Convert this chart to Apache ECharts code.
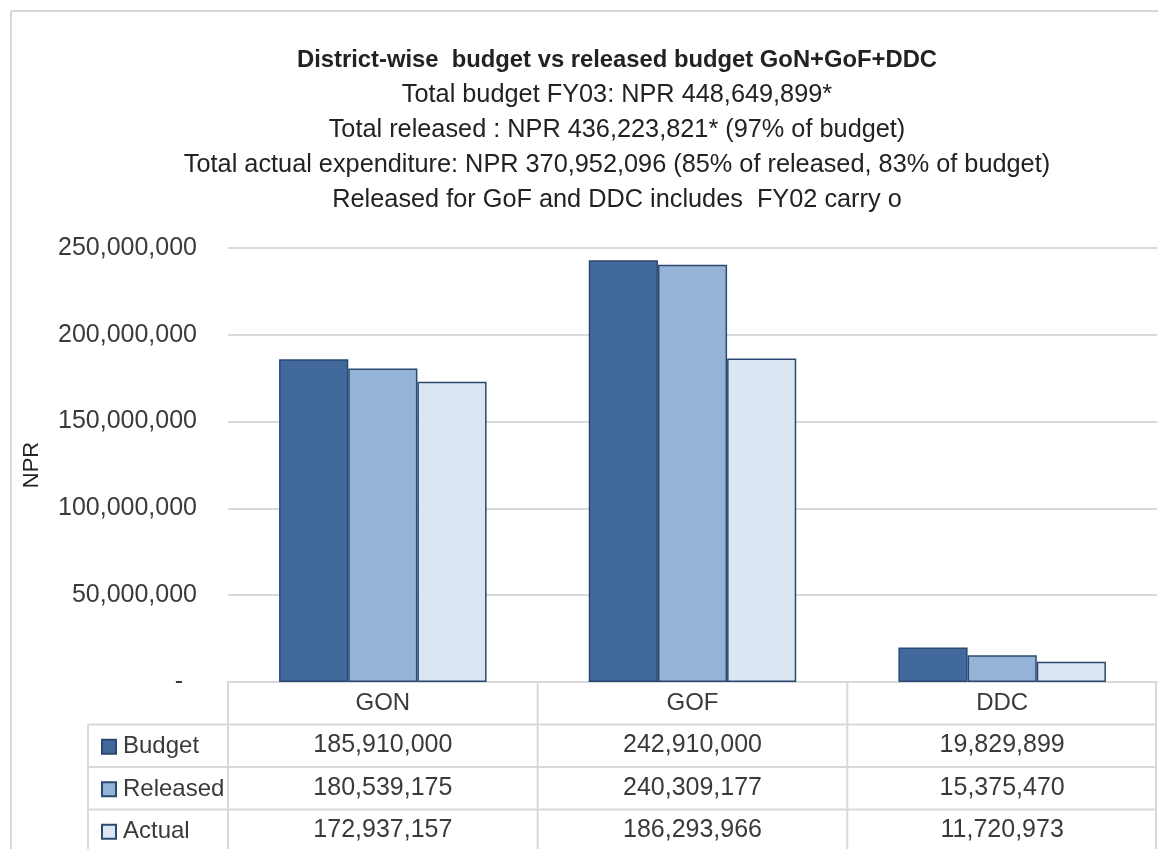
<!DOCTYPE html>
<html>
<head>
<meta charset="utf-8">
<script src="https://cdn.jsdelivr.net/npm/echarts@6/dist/echarts.min.js"></script>
<style>
  html, body { margin: 0; padding: 0; background: #fff; }
  #chart { width: 1158px; height: 849px; }
</style>
</head>
<body>
<div id="chart"></div>
<script>
// Budget lines per funding source
const categories = ['GON', 'GOF', 'DDC'];
const seriesNames = ['Budget', 'Released', 'Actual'];
const budget = [185910000, 242910000, 19829899];
const released = [180539175, 240309177, 15375470];
const actual = [172937157, 186293966, 11720973];
const yTicks = [0, 50000000, 100000000, 150000000, 200000000, 250000000];

const titleText = 'District-wise  budget vs released budget GoN+GoF+DDC';
const subLines = [
  'Total budget FY03: NPR 448,649,899*',
  'Total released : NPR 436,223,821* (97% of budget)',
  'Total actual expenditure: NPR 370,952,096 (85% of released, 83% of budget)',
  'Released for GoF and DDC includes  FY02 carry o'
];

const values = [budget, released, actual];
const colors = ['#41699c', '#95b3d7', '#dce6f2'];
const edge = '#2b4870';
const FONT = '"Liberation Sans", Arial, sans-serif';
const TXT = '#3a3a3a';
const LINE = '#d9d9d9';

// plot geometry
const G = { left: 228, right: 1, top: 248, bottom: 167 };
const W = 1158, H = 849;
const plotRight = W - G.right;
const axisY = H - G.bottom;
const rowH = 42.5;
const tableLeft = 88;

const fmt = v => v.toLocaleString('en-US');

const chart = echarts.init(document.getElementById('chart'), null, { renderer: 'canvas' });

// one extra category axis per table row, offset below the plot
const tableAxes = values.map((arr, r) => ({
  type: 'category',
  data: categories,
  gridIndex: 0,
  position: 'bottom',
  offset: rowH * (r + 1),
  axisLine: { show: false },
  axisTick: { show: false },
  axisLabel: {
    margin: 21,
    verticalAlign: 'middle',
    fontFamily: FONT, fontSize: 25, color: TXT,
    formatter: (v, i) => fmt(arr[i])
  }
}));

const colW = (plotRight - G.left) / categories.length;
const lines = [];
const seg = (x1, y1, x2, y2) => lines.push({
  type: 'line', silent: true,
  shape: { x1, y1, x2, y2 },
  style: { stroke: LINE, lineWidth: 2 }
});
// row separators
for (let r = 1; r <= 3; r++) seg(tableLeft, axisY + rowH * r, plotRight, axisY + rowH * r);
// column separators
seg(tableLeft, axisY + rowH, tableLeft, H);
for (let c = 0; c <= categories.length; c++) {
  const x = Math.min(G.left + colW * c, plotRight - 1);
  seg(x, axisY, x, H);
}
// outer chart frame
seg(11, 11, 11, H);
seg(11, 11, W, 11);

chart.setOption({
  animation: false,
  backgroundColor: '#fff',
  title: {
    text: titleText,
    subtext: subLines.join('\n'),
    left: 612,
    top: 40,
    textAlign: 'center',
    itemGap: 3,
    textStyle: { fontFamily: FONT, fontSize: 23.8, fontWeight: 'bold', color: '#222', lineHeight: 30 },
    subtextStyle: { fontFamily: FONT, fontSize: 25.3, color: '#222', lineHeight: 34.8 }
  },
  legend: {
    orient: 'vertical',
    left: 96,
    top: axisY + rowH + rowH / 2 - 16,
    height: 200,
    itemWidth: 14,
    itemHeight: 14,
    itemGap: rowH - 24,
    icon: 'rect',
    selectedMode: false,
    data: seriesNames,
    textStyle: { fontFamily: FONT, fontSize: 24, color: TXT, lineHeight: 24, padding: [0, 0, 0, 2] }
  },
  grid: { left: G.left, right: G.right, top: G.top, bottom: G.bottom, containLabel: false },
  xAxis: [{
    type: 'category',
    data: categories,
    position: 'bottom',
    axisLine: { show: true, lineStyle: { color: LINE, width: 2 } },
    axisTick: { show: false },
    axisLabel: { margin: 21, verticalAlign: 'middle', fontFamily: FONT, fontSize: 24, color: TXT }
  }].concat(tableAxes),
  yAxis: {
    type: 'value',
    min: yTicks[0],
    max: yTicks[yTicks.length - 1],
    interval: yTicks[1] - yTicks[0],
    name: 'NPR',
    nameLocation: 'middle',
    nameGap: 185,
    nameTextStyle: { fontFamily: FONT, fontSize: 22, color: '#222' },
    axisLine: { show: false },
    axisTick: { show: false },
    axisLabel: {
      margin: 31,
      fontFamily: FONT, fontSize: 25, color: TXT,
      formatter: v => v === 0 ? '-  ' : fmt(v)
    },
    splitLine: { lineStyle: { color: LINE, width: 2 } }
  },
  series: seriesNames.map((name, i) => ({
    name,
    type: 'bar',
    data: values[i],
    barGap: '0%',
    barCategoryGap: '33%',
    itemStyle: { color: colors[i], borderColor: edge, borderWidth: 1.5 }
  })),
  graphic: lines
});
</script>
</body>
</html>
